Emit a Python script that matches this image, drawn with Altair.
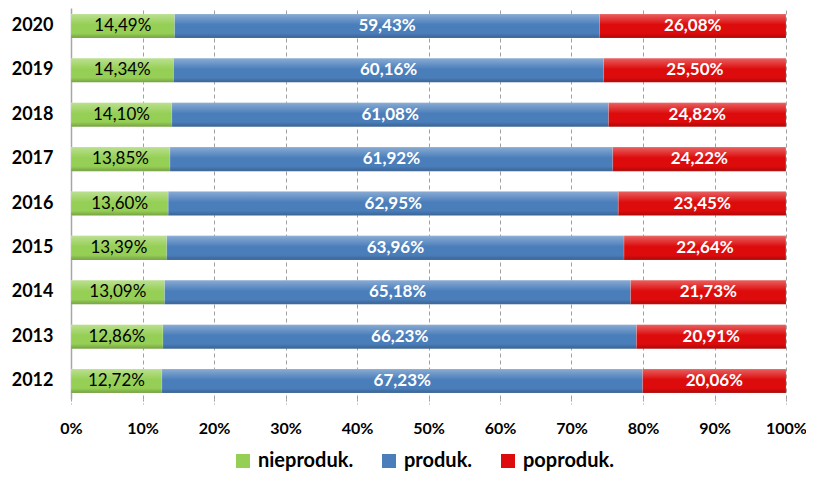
import altair as alt
import pandas as pd

years = [2020, 2019, 2018, 2017, 2016, 2015, 2014, 2013, 2012]
nieproduk = [14.49, 14.34, 14.10, 13.85, 13.60, 13.39, 13.09, 12.86, 12.72]
produk = [59.43, 60.16, 61.08, 61.92, 62.95, 63.96, 65.18, 66.23, 67.23]
poproduk = [26.08, 25.50, 24.82, 24.22, 23.45, 22.64, 21.73, 20.91, 20.06]
categories = ["nieproduk.", "produk.", "poproduk."]
colors = ["#96CF55", "#4A7EBB", "#DD0B0B"]

rows = []
for i, y in enumerate(years):
    for k, (cat, vals) in enumerate(zip(categories, [nieproduk, produk, poproduk])):
        rows.append({"year": str(y), "cat": cat, "ord": k, "value": vals[i]})
df = pd.DataFrame(rows)

FONT = "Lato"

yenc = alt.Y("year:O", sort="descending",
             scale=alt.Scale(paddingInner=0.459, paddingOuter=0.135),
             axis=alt.Axis(title=None, ticks=False, domainColor="#A6A6A6", domainWidth=1.5,
                           labelFontSize=18, labelFontWeight="bold", labelColor="#000",
                           labelFont=FONT, labelPadding=18))

base = alt.Chart(df)

bars = base.mark_bar(stroke="#ffffff", strokeOpacity=0.3, strokeWidth=0.5).encode(
    x=alt.X("value:Q", stack="zero", scale=alt.Scale(domain=[0, 100]),
            axis=alt.Axis(values=list(range(0, 101, 10)), labelExpr="datum.value + '%'",
                          grid=True, gridDash=[4, 3], gridColor="#A0A0A0",
                          domain=False, tickSize=5, tickColor="#A0A0A0", tickDash=[2, 2],
                          labelFontSize=16, labelFontWeight="bold", labelFont=FONT,
                          labelColor="#000", labelPadding=16, labelFlush=False,
                          labelBound=False, title=None)),
    y=yenc,
    color=alt.Color("cat:N", scale=alt.Scale(domain=categories, range=colors),
                    legend=alt.Legend(orient="none", direction="horizontal",
                                      legendX=162, legendY=443, title=None,
                                      symbolType="square",
                                      symbolSize=196, symbolStrokeWidth=0,
                                      labelFontSize=20, labelFontWeight="bold", labelFont=FONT,
                                      labelColor="#000", columnPadding=25, labelOffset=5)),
    order=alt.Order("ord:Q"),
)

shine = base.mark_bar(
    color={"gradient": "linear", "x1": 0, "y1": 0, "x2": 0, "y2": 1,
           "stops": [{"offset": 0, "color": "rgba(255,255,255,0.35)"},
                     {"offset": 0.45, "color": "rgba(255,255,255,0.0)"},
                     {"offset": 0.8, "color": "rgba(0,0,0,0.0)"},
                     {"offset": 1, "color": "rgba(0,0,0,0.22)"}]}
).encode(
    x=alt.X("sum(value):Q", stack="zero"),
    y=yenc,
)

lab_base = base.transform_window(
    cum="sum(value)", groupby=["year"], sort=[alt.SortField("ord", order="ascending")],
    frame=[None, 0]
).transform_calculate(
    mid="datum.cum - datum.value / 2",
    txt="replace(format(datum.value, '.2f'), '.', ',') + '%'"
)

labels_dark = lab_base.transform_filter(alt.datum.cat == "nieproduk.").mark_text(
    fontSize=17, fontWeight="normal", font=FONT, baseline="middle", color="#000000"
).encode(x=alt.X("mid:Q"), y=yenc, text="txt:N")

labels_light = lab_base.transform_filter(alt.datum.cat != "nieproduk.").mark_text(
    fontSize=17, fontWeight="bold", font=FONT, baseline="middle", color="#ffffff"
).encode(x=alt.X("mid:Q"), y=yenc, text="txt:N")

chart = alt.layer(bars, shine, labels_dark, labels_light).properties(
    width=715, height=391,
    autosize=alt.AutoSizeParams(type="none"),
    padding={"left": 63, "top": 0, "right": 20, "bottom": 72},
).configure_view(stroke=None)

chart.save("out.html", embed_options={"renderer": "svg", "actions": False})
